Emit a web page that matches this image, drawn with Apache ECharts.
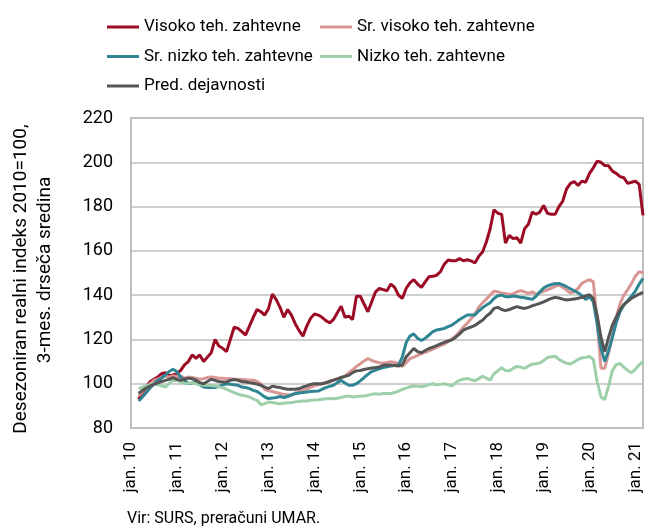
<!DOCTYPE html>
<html>
<head>
<meta charset="utf-8">
<script src="https://cdn.jsdelivr.net/npm/echarts@6/dist/echarts.min.js"></script>
<style>
  html, body { margin: 0; padding: 0; background: #fff; }
  #chart { width: 645px; height: 530px; }
</style>
</head>
<body>
<div id="chart"></div>
<script>
// monthly axis jan.10 .. mar.21, labels only on January
const monthNames = ['jan.', 'feb.', 'mar.', 'apr.', 'maj', 'jun.', 'jul.', 'avg.', 'sep.', 'okt.', 'nov.', 'dec.'];
const years = ['10', '11', '12', '13', '14', '15', '16', '17', '18', '19', '20', '21'];
const categories = [];
years.forEach(y => monthNames.forEach(m => categories.push(m + ' ' + y)));
categories.length = 135; // up to mar. 21

// series start in mar. 10 (3-month moving average)
const startOffset = 2;

const visoko = [
  93, 96, 98.5, 101, 102, 103, 104.5, 105, 103.5, 104,
  104.5, 106, 108.5, 110, 113, 111.5, 113, 110, 112, 114, 120, 117,
  116, 114.5, 120, 125.5, 125, 123.5, 122, 126, 130, 133.5, 132.5, 131,
  134, 140.5, 138, 134.5, 130, 133.5, 131, 127, 124, 121.5, 126, 129.5,
  131.5, 131, 130, 128.5, 127.5, 129, 132, 135, 130, 130.5, 129, 139.5,
  139.5, 136, 132.5, 137, 141.5, 143, 142.5, 142, 145, 143.5, 140, 138.5,
  143, 145.5, 147, 145, 143.5, 146, 148.3, 148.5, 149, 150.6, 154, 155.9,
  155.5, 155.5, 156.5, 155.5, 156, 155.5, 154.5, 157.5, 159.5, 164, 170, 178.5,
  177, 176.5, 163.5, 167, 165.5, 166, 163.5, 170, 172, 177.5, 176.5, 177.5,
  180.5, 177, 176.5, 176.5, 180, 182.5, 188, 190.5, 191.3, 189.5, 191.5, 191,
  195, 197.5, 200.5, 200, 198.5, 198.4, 196, 195, 193.5, 193, 190.5, 191,
  191.5, 190, 176
];
const srVisoko = [
  94.5, 96.5, 98.5, 100, 101.5, 102, 103, 103.5, 103, 103.5,
  103.3, 103.4, 102.5, 103, 102.8, 102.5, 102, 102.3, 102.8, 103, 102.8, 102.5,
  102.5, 102.3, 102.2, 102, 102, 101.9, 101.8, 101.6, 101.6, 101, 100, 97.5,
  96.8, 96.5, 96, 95.6, 95.2, 95, 94.8, 95.8, 96.5, 97, 97.6, 98.3,
  99, 99.5, 100, 100.6, 101.2, 101.6, 102.2, 102.8, 103.4, 105, 106.3, 107.8,
  109, 110.3, 111.4, 110.5, 109.9, 109.5, 109.4, 109.6, 109.9, 109.6, 109.1, 107.8,
  109.5, 111.4, 112, 112.8, 113.6, 114.2, 114.8, 115.6, 116.5, 117.2, 117.9, 119,
  120.3, 121.6, 123.5, 125.7, 127.3, 129.3, 131.5, 134.5, 136.5, 138.2, 140, 141.8,
  141.5, 141, 140.8, 140.3, 140.5, 141.5, 142, 141.5, 140.8, 141.5, 140.4, 141,
  141.8, 142.4, 143.2, 144, 144.6, 143.5, 142.3, 141, 141.5, 143, 145.3, 146.3,
  147, 146, 128, 107, 107, 114, 121.5, 130, 136.3, 140, 142.5, 145.3,
  148.5, 150.6, 150
];
const srNizko = [
  92.2, 94, 96, 98, 100, 101.5, 102.5, 104, 105.5, 106.5,
  105.5, 103, 101.5, 100, 100.3, 100.8, 99.5, 98.5, 98.3, 98.3, 98.3, 98.8,
  99.5, 100, 99.8, 99.5, 99.3, 98.5, 98.3, 97.8, 97, 96.5, 95.3, 94,
  93.3, 93.5, 93.8, 94.2, 93.8, 94.2, 95, 95.5, 95.8, 96, 96.3, 96.5,
  96.6, 96.7, 97.5, 98.2, 98.8, 99.3, 100.5, 101.5, 100.3, 99.3, 99.3, 100,
  101.3, 102.8, 104.2, 105.5, 106.2, 106.7, 107.3, 107.7, 108, 108.2, 108.4, 112,
  118.5, 121.5, 122.5, 120.5, 119.5, 120.5, 122, 123.5, 124.3, 124.6, 125, 125.8,
  126.5, 127.7, 129, 130, 131, 131, 131, 132.8, 134.3, 135.5, 136.6, 138.5,
  139.7, 140, 139.3, 139.3, 139.6, 139.4, 139, 138.8, 138.5, 138.1, 139.5, 141.5,
  143.2, 144.2, 144.8, 145.2, 145.3, 144.6, 143.8, 142.9, 142, 141.1, 139.8, 138,
  139.3, 137, 127, 116, 110, 115, 121, 127.5, 132.5, 135.5, 137.5, 139.5,
  141.8, 145, 147.6
];
const nizko = [
  97.8, 98.5, 99, 99.5, 100, 99.5, 99, 98.5, 100, 101.5,
  101.5, 100.8, 100, 100.2, 100.5, 100, 99.8, 99.3, 99.3, 99.2, 99, 98.7,
  98.2, 97.5, 96.7, 96, 95.3, 94.8, 94.5, 94, 93.2, 92.5, 90.5, 91,
  91.7, 91.5, 91.2, 91, 91.2, 91.4, 91.5, 91.8, 92, 92.2, 92.2, 92.5,
  92.7, 92.8, 93, 93.2, 93.3, 93.2, 93.4, 93.8, 94.2, 94.4, 94, 94.2,
  94.3, 94.4, 94.8, 95.2, 95.5, 95.3, 95.6, 95.6, 95.6, 96, 96.7, 97.4,
  98, 98.6, 99, 98.8, 98.6, 99, 99.6, 100, 99.5, 99.7, 100, 99.5,
  99, 100.5, 101.6, 102, 102.4, 101.8, 101.3, 102.3, 103.4, 102.5, 101.6, 104.5,
  105.8, 107.2, 106, 105.8, 106.9, 107.8, 107.5, 106.9, 108, 108.8, 109, 109.4,
  110.5, 111.8, 112.2, 112.4, 111, 110, 109.3, 108.9, 109.8, 111, 111.6, 111.9,
  112.3, 111, 101, 94, 92.8, 99, 106, 108.6, 109.1, 107.5, 106, 105,
  106.5, 108.5, 110
];
const predelovalne = [
  95.6, 97, 98, 99, 99.7, 100.4, 101, 101.5, 102, 102.8,
  102, 101.5, 102, 102.5, 102.3, 101.5, 100.5, 100, 101, 102, 101.5, 101,
  100.8, 100.8, 101.5, 101.9, 101.5, 101, 100.8, 100.5, 100.2, 99.8, 99.3, 98.5,
  97.8, 98.9, 98.5, 98.3, 97.8, 97.5, 97.5, 97.5, 97.8, 98.5, 99, 99.7,
  100, 100, 100, 100.4, 101, 101.6, 102.2, 102.8, 103.3, 103.8, 105, 105.8,
  106, 106.4, 106.8, 107.1, 107.3, 107.6, 108.3, 108.4, 108.4, 108.2, 108, 108.5,
  112.1, 114, 115.9, 114.5, 114, 115, 115.9, 116.5, 117.2, 118, 118.7, 119.3,
  119.8, 121, 122.5, 124.2, 125, 125.6, 126.3, 127.5, 128.7, 130.5, 131.8, 134,
  134.5, 133.5, 133, 133.5, 134.2, 134.8, 134.3, 134, 134.5, 135.2, 135.7, 136.3,
  137, 137.8, 138.5, 139, 138.7, 138.2, 137.8, 138, 138.3, 138.6, 139, 139.6,
  140.2, 138.5, 131, 121, 114.4, 121, 126.5, 130, 133.5, 135.8, 137.2, 138.6,
  139.5, 140.5, 141.3
];

const seriesNames = ['Visoko teh. zahtevne', 'Sr. visoko teh. zahtevne', 'Sr. nizko teh. zahtevne', 'Nizko teh. zahtevne', 'Pred. dejavnosti'];
const seriesData = [visoko, srVisoko, srNizko, nizko, predelovalne];
const colors = ['#9c0a26', '#d99694', '#2f8594', '#9dd0aa', '#555555'];

const font = 'Roboto, "Liberation Sans", sans-serif';
const pad = new Array(startOffset).fill(null);

const chart = echarts.init(document.getElementById('chart'));
const legendText = { fontFamily: font, fontSize: 17, color: '#000', lineHeight: 20 };
const option = {
  animation: false,
  color: colors,
  textStyle: { fontFamily: font, color: '#000' },
  legend: [
    {
      orient: 'vertical', left: 102, top: 12, itemGap: 9.5,
      icon: 'rect', itemWidth: 32, itemHeight: 3,
      textStyle: legendText,
      data: [seriesNames[0], seriesNames[2], seriesNames[4]]
    },
    {
      orient: 'vertical', left: 315, top: 12, itemGap: 9.5,
      icon: 'rect', itemWidth: 32, itemHeight: 3,
      textStyle: legendText,
      data: [seriesNames[1], seriesNames[3]]
    }
  ],
  grid: {
    left: 131, right: 2, top: 118, bottom: 102,
    show: true, borderColor: '#bfbfbf', borderWidth: 2
  },
  xAxis: {
    type: 'category',
    data: categories,
    boundaryGap: false,
    axisLine: { lineStyle: { color: '#bfbfbf', width: 2 } },
    axisTick: { show: false },
    splitLine: { show: false },
    axisLabel: {
      rotate: 90,
      margin: 14,
      fontFamily: font,
      fontSize: 17,
      color: '#000',
      interval: (idx) => idx % 12 === 0,
      formatter: (v) => v
    }
  },
  yAxis: {
    type: 'value',
    min: 80, max: 220, interval: 20,
    axisLine: { show: true, lineStyle: { color: '#bfbfbf', width: 2 } },
    axisTick: { show: false },
    splitLine: { lineStyle: { color: '#bfbfbf', width: 1.5 } },
    axisLabel: { margin: 18, fontFamily: font, fontSize: 18, color: '#000' }
  },
  series: seriesNames.map((name, k) => ({
    name: name,
    type: 'line',
    data: pad.concat(seriesData[k]),
    showSymbol: false,
    symbol: 'none',
    lineStyle: { width: 3, color: colors[k] },
    itemStyle: { color: colors[k] }
  })),
  graphic: [
    {
      type: 'text', x: 21, y: 279, rotation: Math.PI / 2,
      style: {
        text: 'Desezoniran realni indeks 2010=100,',
        font: '19px ' + font, fill: '#000',
        textAlign: 'center', textVerticalAlign: 'middle', align: 'center', verticalAlign: 'middle'
      }
    },
    {
      type: 'text', x: 45, y: 270, rotation: Math.PI / 2,
      style: {
        text: '3-mes. drseča sredina',
        font: '19px ' + font, fill: '#000',
        textAlign: 'center', textVerticalAlign: 'middle', align: 'center', verticalAlign: 'middle'
      }
    },
    {
      type: 'text', left: 127, top: 511,
      style: { text: 'Vir: SURS, preračuni UMAR.', font: '16px ' + font, fill: '#000' }
    }
  ]
};
chart.setOption(option);
</script>
</body>
</html>
